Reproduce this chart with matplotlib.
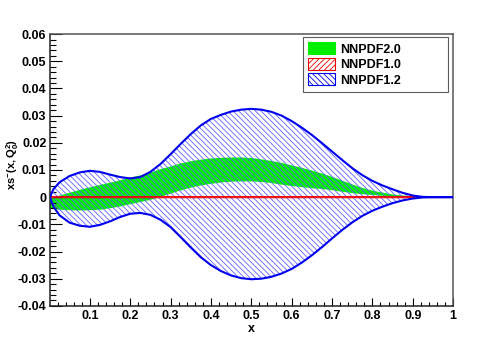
import matplotlib
matplotlib.use("Agg")
from matplotlib import pyplot as plt
from matplotlib import patches as mpatches
from matplotlib.ticker import MultipleLocator

x = [0.001, 0.01, 0.025, 0.05, 0.075, 0.1, 0.125, 0.15, 0.175, 0.2, 0.225,
     0.25, 0.275, 0.3, 0.325, 0.35, 0.375, 0.4, 0.425, 0.45, 0.475, 0.5,
     0.525, 0.55, 0.575, 0.6, 0.625, 0.65, 0.675, 0.7, 0.725, 0.75, 0.775,
     0.8, 0.825, 0.85, 0.875, 0.9, 0.925, 0.95, 0.975, 1.0]

# NNPDF1.2 band (blue, hatched)
nnpdf12_up = [0.0, 0.0030, 0.0055, 0.0078, 0.0091, 0.0097, 0.0093, 0.0083,
              0.0074, 0.0069, 0.0074, 0.0093, 0.0122, 0.0158, 0.0196, 0.0232,
              0.0264, 0.0288, 0.0303, 0.0315, 0.0322, 0.0325, 0.0322, 0.0314,
              0.0300, 0.0280, 0.0256, 0.0229, 0.0199, 0.0168, 0.0137, 0.0107,
              0.0081, 0.0060, 0.0043, 0.0029, 0.0016, 0.0006, 0.0001, 0.0,
              0.0, 0.0]
nnpdf12_dn = [0.0, -0.0035, -0.0067, -0.0094, -0.0105, -0.0109, -0.0102,
              -0.0089, -0.0073, -0.0061, -0.0058, -0.0065, -0.0083, -0.0110,
              -0.0147, -0.0185, -0.0221, -0.0250, -0.0272, -0.0288, -0.0298,
              -0.0302, -0.0300, -0.0293, -0.0281, -0.0264, -0.0241, -0.0214,
              -0.0184, -0.0152, -0.0121, -0.0093, -0.0069, -0.0050, -0.0035,
              -0.0022, -0.0012, -0.0005, -0.0001, 0.0, 0.0, 0.0]

# NNPDF2.0 band (green, filled)
nnpdf20_up = [-0.0003, 0.0, 0.0006, 0.0016, 0.0027, 0.0036, 0.0045, 0.0053,
              0.0062, 0.0072, 0.0080, 0.0090, 0.0103, 0.0113, 0.0124, 0.0132,
              0.0138, 0.0142, 0.0145, 0.0146, 0.0146, 0.0144, 0.0139, 0.0133,
              0.0126, 0.0117, 0.0108, 0.0098, 0.0087, 0.0075, 0.0061, 0.0047,
              0.0034, 0.0024, 0.0017, 0.0010, 0.0006, 0.0003, 0.0001, 0.0,
              0.0, 0.0]
nnpdf20_dn = [-0.0042, -0.0044, -0.0046, -0.0048, -0.0049, -0.0048, -0.0046,
              -0.0041, -0.0034, -0.0026, -0.0018, -0.0010, 0.0001, 0.0013,
              0.0025, 0.0035, 0.0043, 0.0049, 0.0054, 0.0057, 0.0058, 0.0058,
              0.0056, 0.0052, 0.0046, 0.0041, 0.0037, 0.0033, 0.0030, 0.0026,
              0.0020, 0.0015, 0.0011, 0.0008, 0.0005, 0.0002, 0.0001, 0.0,
              0.0, 0.0, 0.0, 0.0]

# NNPDF1.0 band (red, hatched) -- essentially zero width
nnpdf10_up = [0.0002] * 38 + [0.0001, 0.0, 0.0, 0.0]
nnpdf10_dn = [-0.0002] * 38 + [-0.0001, 0.0, 0.0, 0.0]

labels = ["NNPDF2.0", "NNPDF1.0", "NNPDF1.2"]
xticks = [0.1, 0.2, 0.3, 0.4, 0.5, 0.6, 0.7, 0.8, 0.9, 1.0]
xticklabels = ["0.1", "0.2", "0.3", "0.4", "0.5", "0.6", "0.7", "0.8", "0.9", "1"]
yticks = [-0.04, -0.03, -0.02, -0.01, 0, 0.01, 0.02, 0.03, 0.04, 0.05, 0.06]
yticklabels = ["-0.04", "-0.03", "-0.02", "-0.01", "0", "0.01", "0.02",
               "0.03", "0.04", "0.05", "0.06"]

plt.rcParams["font.family"] = ["Liberation Sans", "DejaVu Sans"]
plt.rcParams["font.weight"] = "bold"
plt.rcParams["mathtext.fontset"] = "custom"
plt.rcParams["mathtext.rm"] = "Liberation Sans:bold"
plt.rcParams["mathtext.it"] = "Liberation Sans:bold"
plt.rcParams["mathtext.bf"] = "Liberation Sans:bold"
plt.rcParams["mathtext.default"] = "bf"
plt.rcParams["hatch.linewidth"] = 0.6

green = "#00ee00"
blue = "#0000ee"
hatch_blue = "#6060ff"
red = "#ee0000"
hatch_red = "#ff7777"
blue_hatch = "\\" * 6
red_hatch = "/" * 6

fig = plt.figure(figsize=(5.04, 3.41), dpi=100)
ax = fig.add_axes([0.099, 0.103, 0.800, 0.797])

ax.fill_between(x, nnpdf20_dn, nnpdf20_up, facecolor=green, edgecolor="none", lw=0, zorder=1)
ax.fill_between(x, nnpdf12_dn, nnpdf12_up, facecolor="none", edgecolor=hatch_blue,
                hatch=blue_hatch, lw=0, zorder=2)
ax.fill_between(x, nnpdf10_dn, nnpdf10_up, facecolor="none", edgecolor=hatch_red,
                hatch=red_hatch, lw=0, zorder=3)
ax.plot(x, nnpdf10_up, color=red, lw=0.8, zorder=4)
ax.plot(x, nnpdf10_dn, color=red, lw=0.8, zorder=4)
ax.plot(x, nnpdf12_up, color=blue, lw=1.5, zorder=5)
ax.plot(x, nnpdf12_dn, color=blue, lw=1.5, zorder=5)

ax.set_xlim(0.001, 1.0)
ax.set_ylim(-0.04, 0.06)
ax.set_xticks(xticks)
ax.set_xticklabels(xticklabels)
ax.set_yticks(yticks)
ax.set_yticklabels(yticklabels)
ax.xaxis.set_minor_locator(MultipleLocator(0.02))
ax.yaxis.set_minor_locator(MultipleLocator(0.002))

ax.tick_params(axis="both", which="both", direction="in", labelsize=9, width=0.8,
               top=False, right=False)
ax.tick_params(axis="y", which="major", length=8.5, pad=2.5)
ax.tick_params(axis="y", which="minor", length=4.3)
ax.tick_params(axis="x", which="major", length=5.8, pad=3)
ax.tick_params(axis="x", which="minor", length=2.9)

for side in ["left", "bottom"]:
    ax.spines[side].set_linewidth(1.1)
    ax.spines[side].set_color("#222222")
for side in ["top", "right"]:
    ax.spines[side].set_linewidth(1.1)
    ax.spines[side].set_color("#555555")

ax.set_xlabel("x", fontsize=9, fontweight="bold", labelpad=1)
ax.set_ylabel(r"$xs^{-}(x, Q_0^2)$", fontsize=8)
ax.yaxis.set_label_coords(-0.072, 0.52)

handles = [
    mpatches.Patch(facecolor=green, edgecolor=green, lw=0.8),
    mpatches.Patch(facecolor="white", edgecolor=red, hatch=red_hatch, lw=0.8),
    mpatches.Patch(facecolor="white", edgecolor=blue, hatch=blue_hatch, lw=0.8),
]
leg = ax.legend(handles, labels, loc="upper left",
                bbox_to_anchor=(0.627, 0.776, 0.361, 0.214), mode="expand",
                borderaxespad=0, fontsize=9, frameon=True, fancybox=False,
                handlelength=2.1, handleheight=1.1, labelspacing=0.18,
                borderpad=0.45, handletextpad=0.45)
leg.get_frame().set_edgecolor("#333333")
leg.get_frame().set_linewidth(0.8)
leg.set_zorder(10)

fig.savefig("out.png", dpi=100, facecolor="white")
